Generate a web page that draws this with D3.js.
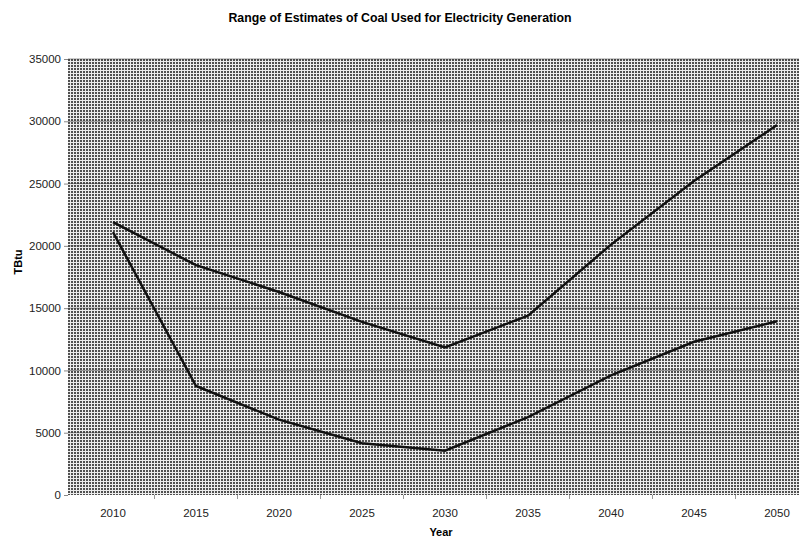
<!DOCTYPE html>
<html>
<head>
<meta charset="utf-8">
<script src="https://cdn.jsdelivr.net/npm/d3@7"></script>
<style>
  body { margin: 0; background: #fff; }
  svg text { font-family: "Liberation Sans", Arial, sans-serif; }
</style>
</head>
<body>
<svg id="chart" width="799" height="544"></svg>
<script>
// 데이터
const years = ["2010", "2015", "2020", "2025", "2030", "2035", "2040", "2045", "2050"];
const highEstimate = [21900, 18450, 16300, 13900, 11850, 14400, 20100, 25200, 29700];
const lowEstimate = [21100, 8750, 6050, 4150, 3550, 6250, 9600, 12300, 13950];
const yTicks = [0, 5000, 10000, 15000, 20000, 25000, 30000, 35000];

const svg = d3.select("#chart");
const margin = { top: 59, right: 0, bottom: 49, left: 68 };
const width = 799 - margin.left - margin.right;
const height = 544 - margin.top - margin.bottom;

// 점묘 배경 패턴
const defs = svg.append("defs");
const pat = defs.append("pattern")
  .attr("id", "dots")
  .attr("patternUnits", "userSpaceOnUse")
  .attr("width", 3).attr("height", 3);
pat.append("rect").attr("width", 3).attr("height", 3).attr("fill", "#ececec");
pat.append("rect").attr("width", 2).attr("height", 2).attr("fill", "#505050");

svg.append("text")
  .attr("x", 400).attr("y", 22)
  .attr("text-anchor", "middle")
  .style("font-size", "12.3px").style("font-weight", "bold")
  .text("Range of Estimates of Coal Used for Electricity Generation");

const g = svg.append("g").attr("transform", `translate(${margin.left},${margin.top})`);

const bandW = 83;
const x = d3.scaleBand()
  .domain(years)
  .range([0, bandW * years.length])
  .paddingInner(0).paddingOuter(0);
// 2010 중심 ≈ 113px 이 되도록 살짝 이동
const xOff = 113 - margin.left - bandW / 2;
const xc = d => xOff + x(d) + x.bandwidth() / 2;

const y = d3.scaleLinear().domain([0, 35000]).range([height, 0]);

g.append("rect")
  .attr("width", width).attr("height", height)
  .attr("fill", "url(#dots)");

// 격자선
g.selectAll(".grid")
  .data(yTicks.slice(1))
  .enter().append("line")
  .attr("x1", 0).attr("x2", width)
  .attr("y1", d => y(d)).attr("y2", d => y(d))
  .attr("stroke", "#333").attr("stroke-width", 1).attr("opacity", 0.5);

// y축
const yAxis = g.append("g")
  .call(d3.axisLeft(y).tickValues(yTicks).tickSize(4).tickSizeOuter(0).tickFormat(d3.format("d")));
yAxis.select(".domain").remove();
yAxis.selectAll("line").attr("stroke", "#888");
yAxis.selectAll("text").style("font-size", "11.5px").attr("fill", "#222");

// x축
const xAxis = g.append("g")
  .attr("transform", `translate(${xOff},${height})`)
  .call(d3.axisBottom(x).tickSize(0).tickPadding(14));
xAxis.select(".domain").remove();
xAxis.selectAll("text").style("font-size", "11.5px").attr("fill", "#222");

g.selectAll(".xtick")
  .data(years.slice(1))
  .enter().append("line")
  .attr("x1", d => xOff + x(d)).attr("x2", d => xOff + x(d))
  .attr("y1", height).attr("y2", height + 4)
  .attr("stroke", "#999");

const line = d3.line()
  .x((d, i) => xc(years[i]))
  .y(d => y(d));

[highEstimate, lowEstimate].forEach(series => {
  g.append("path")
    .datum(series)
    .attr("fill", "none")
    .attr("stroke", "#111")
    .attr("stroke-width", 2.5)
    .attr("d", line);
});

svg.append("text")
  .attr("transform", "translate(22,262) rotate(-90)")
  .attr("text-anchor", "middle")
  .style("font-size", "11px").style("font-weight", "bold")
  .text("TBtu");

svg.append("text")
  .attr("x", 441).attr("y", 536)
  .attr("text-anchor", "middle")
  .style("font-size", "11px").style("font-weight", "bold")
  .text("Year");
</script>
</body>
</html>
